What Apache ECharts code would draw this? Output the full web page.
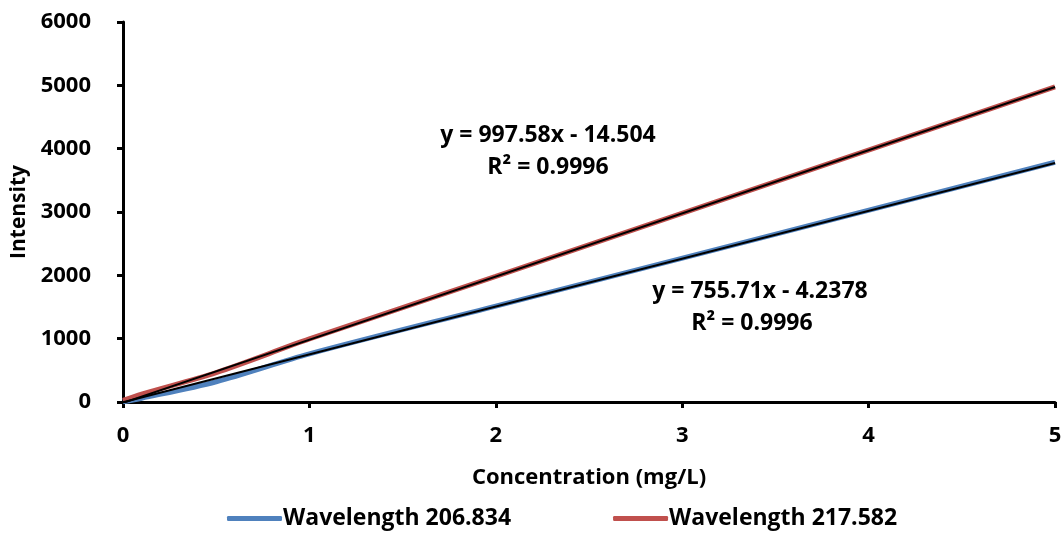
<!DOCTYPE html>
<html><head><meta charset="utf-8">
<script src="https://cdn.jsdelivr.net/npm/echarts@6/dist/echarts.min.js"></script>
<style>html,body{margin:0;padding:0;background:#fff}#c{width:1063px;height:533px}</style>
</head><body><div id="c"></div>
<script>
const xValues = [0, 0.1, 0.5, 1, 2, 5];
const blueValues = [5, 60, 320, 760, 1515, 3785];
const redValues = [25, 125, 465, 995, 1985, 4975];
const seriesNames = ['Wavelength 206.834', 'Wavelength 217.582'];
const blueTrend = {slope: 755.71, intercept: -4.2378, label1: 'y = 755.71x - 4.2378', label2: 'R² = 0.9996'};
const redTrend = {slope: 997.58, intercept: -14.504, label1: 'y = 997.58x - 14.504', label2: 'R² = 0.9996'};
const trendX = [0, 5];
const yTicks = [0, 1000, 2000, 3000, 4000, 5000, 6000];
const xTicks = [0, 1, 2, 3, 4, 5];

const FONT = '"Open Sans"';
const pair = (xs, ys) => xs.map((x, i) => [x, ys[i]]);
const trend = t => trendX.map(x => [x, t.slope * x + t.intercept]);
const lbl = (text, x, y) => ({type: 'text', x: x, y: y, z: 10,
  style: {text: text, align: 'center', verticalAlign: 'middle', fontFamily: 'Open Sans', fontWeight: 'bold', fontSize: 23, fill: '#000'}});

const chart = echarts.init(document.getElementById('c'));
chart.setOption({
  animation: false,
  grid: {left: 123, right: 8, top: 22, bottom: 131, containLabel: false, outerBoundsMode: 'none'},
  xAxis: {
    type: 'value', min: xTicks[0], max: xTicks[xTicks.length-1], interval: 1,
    name: 'Concentration (mg/L)', nameLocation: 'middle', nameGap: 65,
    nameTextStyle: {fontFamily: FONT, fontWeight: 'bold', fontSize: 22, color: '#000'},
    axisLine: {lineStyle: {color: '#000', width: 3}},
    axisTick: {show: true, length: 6, lineStyle: {color: '#000', width: 3}},
    axisLabel: {fontFamily: FONT, fontWeight: 'bold', fontSize: 22, color: '#000', margin: 23, formatter: v => String(v)},
    splitLine: {show: false}
  },
  yAxis: {
    type: 'value', min: yTicks[0], max: yTicks[yTicks.length-1], interval: 1000,
    name: 'Intensity', nameLocation: 'middle', nameGap: 93,
    nameTextStyle: {fontFamily: FONT, fontWeight: 'bold', fontSize: 21, color: '#000'},
    axisLine: {show: true, lineStyle: {color: '#000', width: 3}},
    axisTick: {show: true, length: 6, lineStyle: {color: '#000', width: 3}},
    axisLabel: {fontFamily: FONT, fontWeight: 'bold', fontSize: 22, color: '#000', margin: 32, formatter: v => String(v)},
    splitLine: {show: false}
  },
  legend: {
    bottom: -2, left: 222, itemGap: 102,
    data: seriesNames.map(n => ({name: n, icon: 'roundRect'})),
    itemWidth: 55, itemHeight: 5,
    textStyle: {fontFamily: FONT, fontWeight: 'bold', fontSize: 23, color: '#000', padding: [0,0,0,-4]}
  },
  series: [
    {name: seriesNames[0], type: 'line', data: pair(xValues, blueValues), smooth: 0.3, showSymbol: false,
     lineStyle: {color: '#4F81BD', width: 5}, itemStyle: {color: '#4F81BD'}, z: 2},
    {name: seriesNames[1], type: 'line', data: pair(xValues, redValues), smooth: 0.3, showSymbol: false,
     lineStyle: {color: '#C0504D', width: 5}, itemStyle: {color: '#C0504D'}, z: 2},
    {name: 'trend1', type: 'line', data: trend(blueTrend), showSymbol: false, clip: true,
     lineStyle: {color: '#000', width: 2}, z: 3},
    {name: 'trend2', type: 'line', data: trend(redTrend), showSymbol: false, clip: true,
     lineStyle: {color: '#000', width: 2}, z: 3}
  ],
  graphic: [
    lbl(redTrend.label1, 548, 135),
    lbl(redTrend.label2, 548, 167),
    lbl(blueTrend.label1, 760, 291),
    lbl(blueTrend.label2, 752, 323)
  ]
});
</script></body></html>
